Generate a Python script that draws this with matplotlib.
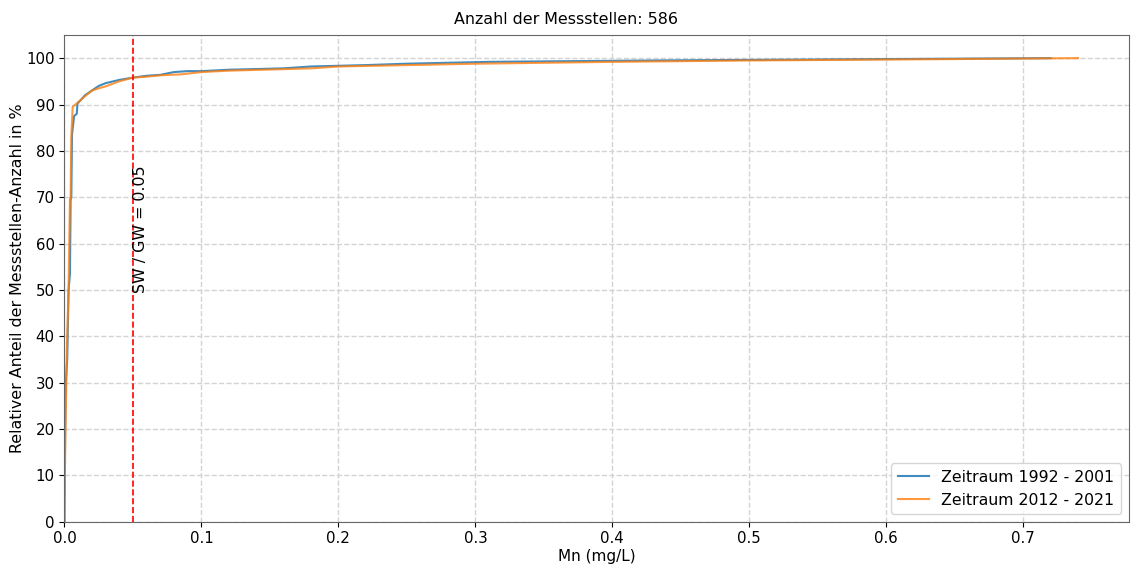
import matplotlib
matplotlib.use("Agg")
import matplotlib.pyplot as plt

x_1992 = [0.0, 0.0005, 0.001, 0.002, 0.003, 0.004, 0.0045, 0.005, 0.0055, 0.007, 0.009, 0.0095,
          0.012, 0.015, 0.02, 0.025, 0.03, 0.04, 0.05, 0.06, 0.07, 0.08, 0.09, 0.1, 0.12,
          0.16, 0.18, 0.22, 0.25, 0.31, 0.43, 0.6, 0.72]
y_1992 = [0.0, 20.0, 30.0, 35.0, 50.0, 53.5, 69.5, 70.0, 83.5, 87.5, 88.0, 90.2,
          91.0, 92.0, 93.0, 94.0, 94.6, 95.3, 95.8, 96.2, 96.4, 97.0, 97.2, 97.2, 97.5,
          97.8, 98.2, 98.5, 98.8, 99.2, 99.5, 99.8, 100.0]

x_2012 = [0.0, 0.0005, 0.001, 0.002, 0.003, 0.004, 0.0045, 0.005, 0.006, 0.008, 0.012,
          0.015, 0.02, 0.025, 0.03, 0.04, 0.05, 0.06, 0.07, 0.085, 0.1, 0.12, 0.18,
          0.2, 0.25, 0.3, 0.4, 0.5, 0.65, 0.74]
y_2012 = [0.0, 15.0, 25.0, 40.0, 50.0, 69.5, 70.0, 83.0, 89.5, 90.0, 91.0,
          91.8, 93.0, 93.5, 93.9, 95.0, 95.8, 96.0, 96.3, 96.5, 97.0, 97.3, 97.8,
          98.2, 98.5, 98.8, 99.2, 99.5, 99.8, 100.0]

grenzwert = 0.05
anzahl = 586

fig, ax = plt.subplots(figsize=(11.31, 5.64), dpi=100)
ax.plot(x_1992, y_1992, color="tab:blue", lw=1.5, alpha=0.85, label="Zeitraum 1992 - 2001")
ax.plot(x_2012, y_2012, color="tab:orange", lw=1.5, alpha=0.8, label="Zeitraum 2012 - 2021")
ax.axvline(grenzwert, color="red", ls="--", lw=1.2)
ax.text(grenzwert, 50, f"SW / GW = {grenzwert}", rotation=90, fontsize=11.4)

ax.set_xlim(0, 0.777)
ax.set_ylim(0, 105)
ax.set_yticks(range(0, 101, 10))
ax.tick_params(labelsize=10.8)
for s in ax.spines.values():
    s.set_color("#666666")
ax.grid(True, ls="--", color="lightgray", lw=1)
ax.set_xlabel("Mn (mg/L)", fontsize=11, labelpad=2)
ax.set_ylabel("Relativer Anteil der Messstellen-Anzahl in %", fontsize=11.4, labelpad=1)
fig.suptitle(f"Anzahl der Messstellen: {anzahl}", fontsize=11.4, y=0.966, va="center")
ax.legend(loc="lower right", fontsize=11.3)

fig.subplots_adjust(left=0.057, right=0.998, top=0.938, bottom=0.075)
fig.savefig("out.png")
